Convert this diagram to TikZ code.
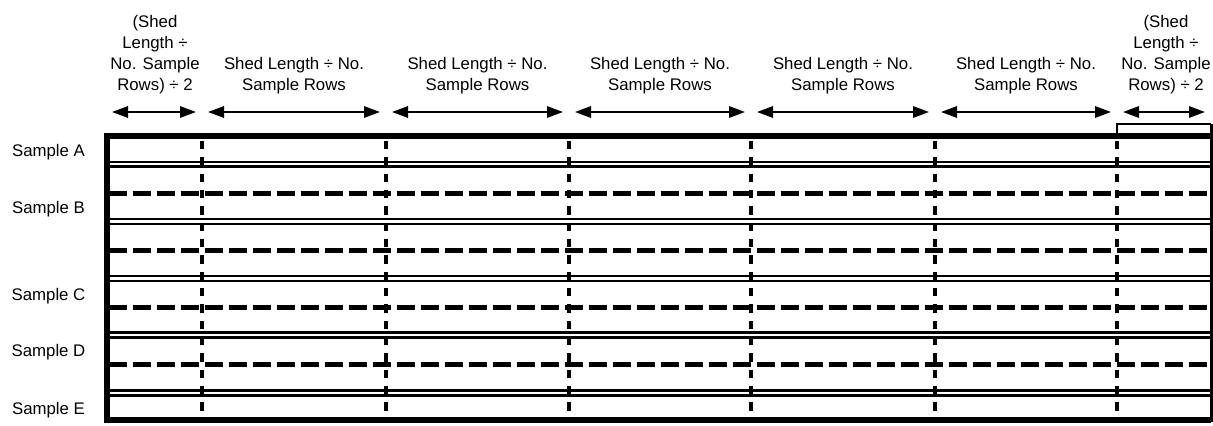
\documentclass[tikz,border=0pt]{standalone}
\usepackage{fontspec}
\setmainfont{Liberation Sans}
\usetikzlibrary{arrows.meta}

\begin{document}
\begin{tikzpicture}[
    x=0.75pt, y=-0.75pt,
    font=\fontsize{12.6pt}{15.75pt}\selectfont,
    head/.style={align=center, anchor=south, inner sep=0pt},
    rowlabel/.style={anchor=base, inner sep=0pt},
    span/.style={{Triangle[length=12pt,width=8.5pt]}-{Triangle[length=12pt,width=8.5pt]}, line width=1.5pt, shorten <=4.5pt, shorten >=4.5pt},
    rowsep/.style={double, line width=1.9pt, double distance=1.6pt},
    halfrow/.style={line width=3.4pt, dash pattern=on 13.5pt off 4.5pt},
    cut/.style={line width=2.5pt, dash pattern=on 6.25pt off 6pt}
  ]
    \useasboundingbox (0,0) rectangle (1213,425);
    % column boundaries at arrow height
    \coordinate (a0) at (106,112);
    \coordinate (a1) at (202,112);
    \coordinate (a2) at (386,112);
    \coordinate (a3) at (569,112);
    \coordinate (a4) at (751,112);
    \coordinate (a5) at (935,112);
    \coordinate (a6) at (1117,112);
    \coordinate (a7) at (1211,112);
    % headers
    \node[head] (h0) at (155,94) {(Shed\\Length ÷\\No. Sample\\Rows) ÷ 2};
    \node[head] (h1) at (294,94) {Shed Length ÷ No.\\Sample Rows};
    \node[head] (h2) at (477.5,94) {Shed Length ÷ No.\\Sample Rows};
    \node[head] (h3) at (660,94) {Shed Length ÷ No.\\Sample Rows};
    \node[head] (h4) at (843,94) {Shed Length ÷ No.\\Sample Rows};
    \node[head] (h5) at (1026,94) {Shed Length ÷ No.\\Sample Rows};
    \node[head] (h6) at (1166,94) {(Shed\\Length ÷\\No. Sample\\Rows) ÷ 2};
    \draw[span] (a0) -- (a1);
    \draw[span] (a1) -- (a2);
    \draw[span] (a2) -- (a3);
    \draw[span] (a3) -- (a4);
    \draw[span] (a4) -- (a5);
    \draw[span] (a5) -- (a6);
    \draw[span] (a6) -- (a7);
    % row labels
    \node[rowlabel] (sa) at (48.5,156) {Sample A};
    \node[rowlabel] (sb) at (48.5,213) {Sample B};
    \node[rowlabel] (sc) at (48.5,300.5) {Sample C};
    \node[rowlabel] (sd) at (48.5,356.5) {Sample D};
    \node[rowlabel] (se) at (48.5,414) {Sample E};
    % shed
    \foreach \y in {193.3,250.5,307.5,364.5}
      \draw[halfrow] (109,\y) -- (1210,\y);
    \foreach \y in {164.3,221.5,278.5,335,393}
      \draw[rowsep] (109,\y) -- (1210,\y);
    \foreach \x in {202,386,569,751,935,1117}
      \draw[cut] (\x,141) -- (\x,416);
    \draw[line width=4.5pt] (1211,135.5) -- (106.5,135.5) -- (106.5,419.5) -- (1211,419.5);
    \draw[line width=2.25pt] (1211,123.5) -- (1211,422);
    \draw[line width=1.75pt] (1117,137) |- (1211,124.3);
  \end{tikzpicture}
\end{document}
